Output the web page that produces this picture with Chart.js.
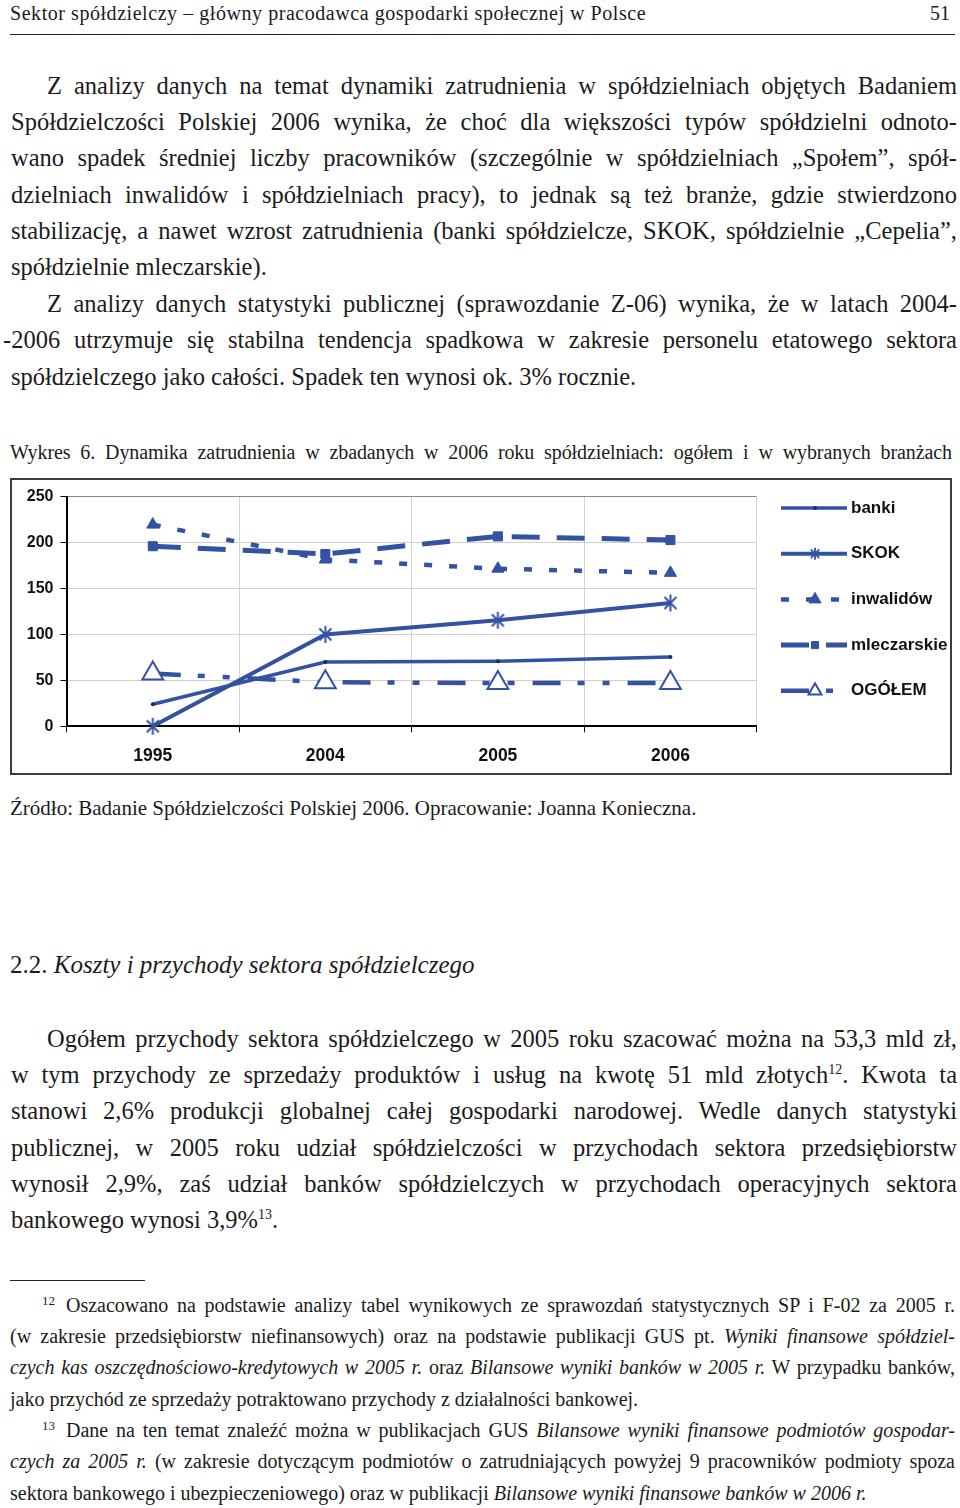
<!DOCTYPE html>
<html lang="pl">
<head>
<meta charset="utf-8">
<script src="https://cdn.jsdelivr.net/npm/chart.js@4.4.1/dist/chart.umd.min.js"></script>
<style>
  body { margin:0; width:960px; height:1508px; background:#fff; color:#1b1b1b;
         font-family:"Liberation Serif", "DejaVu Serif", serif; position:relative; overflow:hidden; }
  .blk { position:absolute; }
  .j { text-align:justify; text-align-last:justify; }
  .l { text-align:left; }
  .ind { text-indent:36px; }
  .body { left:11px; width:946px; font-size:24.5px; line-height:36.4px; }
  .body div { height:36.4px; white-space:normal; }
  .fn { left:10px; width:945px; font-size:20px; line-height:31.33px; }
  .fn div { height:31.33px; }
  .fnum { display:inline-block; width:24px; font-size:13px; position:relative; top:-7px; text-indent:0; }
  sup { font-size:14px; vertical-align:9px; line-height:0; }
  #box { position:absolute; left:10px; top:478px; width:938px; height:293px; border:2px solid #3c3c3c; }
</style>
</head>
<body>

<div class="blk" style="left:10px; top:1px; font-size:20px; line-height:24px; letter-spacing:0.55px;">Sektor spółdzielczy – główny pracodawca gospodarki społecznej w Polsce</div>
<div class="blk" style="right:10px; top:1px; font-size:20px; line-height:24px;">51</div>
<div class="blk" style="left:10px; top:34px; width:945px; height:1px; background:#222;"></div>

<div class="blk body" style="top:67.5px;">
  <div class="j ind">Z analizy danych na temat dynamiki zatrudnienia w spółdzielniach objętych Badaniem</div>
  <div class="j">Spółdzielczości Polskiej 2006 wynika, że choć dla większości typów spółdzielni odnoto-</div>
  <div class="j">wano spadek średniej liczby pracowników (szczególnie w spółdzielniach „Społem”, spół-</div>
  <div class="j">dzielniach inwalidów i spółdzielniach pracy), to jednak są też branże, gdzie stwierdzono</div>
  <div class="j">stabilizację, a nawet wzrost zatrudnienia (banki spółdzielcze, SKOK, spółdzielnie „Cepelia”,</div>
  <div class="l">spółdzielnie mleczarskie).</div>
  <div class="j ind">Z analizy danych statystyki publicznej (sprawozdanie Z-06) wynika, że w latach 2004-</div>
  <div class="j" style="margin-left:-8px;">-2006 utrzymuje się stabilna tendencja spadkowa w zakresie personelu etatowego sektora</div>
  <div class="l">spółdzielczego jako całości. Spadek ten wynosi ok. 3% rocznie.</div>
</div>

<div class="blk j" style="left:10px; top:439px; width:942px; font-size:20px; line-height:26px; letter-spacing:-0.1px;">Wykres 6. Dynamika zatrudnienia w zbadanych w 2006 roku spółdzielniach: ogółem i w wybranych branżach</div>

<div id="box"><canvas id="c" width="938" height="293"></canvas></div>

<div class="blk" style="left:10px; top:795px; font-size:21px; line-height:26px;">Źródło: Badanie Spółdzielczości Polskiej 2006. Opracowanie: Joanna Konieczna.</div>

<div class="blk" style="left:10px; top:949.6px; font-size:25px; line-height:30px;">2.2. <i>Koszty i przychody sektora spółdzielczego</i></div>

<div class="blk body" style="top:1020.5px;">
  <div class="j ind">Ogółem przychody sektora spółdzielczego w 2005 roku szacować można na 53,3 mld zł,</div>
  <div class="j">w tym przychody ze sprzedaży produktów i usług na kwotę 51 mld złotych<sup>12</sup>. Kwota ta</div>
  <div class="j">stanowi 2,6% produkcji globalnej całej gospodarki narodowej. Wedle danych statystyki</div>
  <div class="j">publicznej, w 2005 roku udział spółdzielczości w przychodach sektora przedsiębiorstw</div>
  <div class="j">wynosił 2,9%, zaś udział banków spółdzielczych w przychodach operacyjnych sektora</div>
  <div class="l">bankowego wynosi 3,9%<sup>13</sup>.</div>
</div>

<div class="blk" style="left:10px; top:1280px; width:135px; height:1px; background:#222;"></div>

<div class="blk fn" style="top:1289.6px;">
  <div class="j" style="text-indent:32px;"><span class="fnum">12</span>Oszacowano na podstawie analizy tabel wynikowych ze sprawozdań statystycznych SP i F-02 za 2005 r.</div>
  <div class="j">(w zakresie przedsiębiorstw niefinansowych) oraz na podstawie publikacji GUS pt. <i>Wyniki finansowe spółdziel-</i></div>
  <div class="j"><i>czych kas oszczędnościowo-kredytowych w 2005 r.</i> oraz <i>Bilansowe wyniki banków w 2005 r.</i> W przypadku banków,</div>
  <div class="l">jako przychód ze sprzedaży potraktowano przychody z działalności bankowej.</div>
  <div class="j" style="text-indent:32px;"><span class="fnum">13</span>Dane na ten temat znaleźć można w publikacjach GUS <i>Bilansowe wyniki finansowe podmiotów gospodar-</i></div>
  <div class="j"><i>czych za 2005 r.</i> (w zakresie dotyczącym podmiotów o zatrudniających powyżej 9 pracowników podmioty spoza</div>
  <div class="l">sektora bankowego i ubezpieczeniowego) oraz w publikacji <i>Bilansowe wyniki finansowe banków w 2006 r.</i></div>
</div>

<script>
  const years = ["1995", "2004", "2005", "2006"];
  const banki = [24, 70, 70.7, 75.3];
  const skok = [0, 100, 115.4, 134.2];
  const inwalidow = [219.5, 181.5, 171.5, 167];
  const mleczarskie = [196, 187.5, 206.7, 202.7];
  const ogolem = [57.5, 48, 47, 47];
  const seriesNames = ["banki", "SKOK", "inwalidów", "mleczarskie", "OGÓŁEM"];
  const yTicks = [0, 50, 100, 150, 200, 250];

  const BLUE = "#3352a3";
  const AXIS_FONT = "'Liberation Sans', Arial, sans-serif";

  // asterisk marker: vertical stroke plus an X
  function asterisk(size, lw) {
    const c = document.createElement("canvas");
    c.width = size;
    c.height = size;
    const g = c.getContext("2d");
    g.strokeStyle = BLUE;
    g.lineWidth = lw;
    const m = size / 2, r = size / 2 - 1;
    [90, 45, 135].forEach((a) => {
      const rad = (a * Math.PI) / 180;
      g.beginPath();
      g.moveTo(m - r * Math.cos(rad), m - r * Math.sin(rad));
      g.lineTo(m + r * Math.cos(rad), m + r * Math.sin(rad));
      g.stroke();
    });
    return c;
  }
  const starBig = asterisk(19, 2);
  const starSmall = asterisk(14, 1.8);

  const sideLegend = {
    id: "sideLegend",
    afterDraw(chart) {
      const ctx = chart.ctx;
      chart.data.datasets.forEach((ds, i) => {
        const y = 28 + i * 45.7;
        ctx.save();
        ctx.strokeStyle = ds.borderColor;
        ctx.lineWidth = ds.borderWidth;
        ctx.setLineDash(ds.borderDash || []);
        ctx.beginPath();
        ctx.moveTo(769, y);
        ctx.lineTo(835, y);
        ctx.stroke();
        ctx.setLineDash([]);
        ctx.fillStyle = ds.pointBackgroundColor;
        ctx.strokeStyle = ds.pointBorderColor;
        ctx.lineWidth = ds.pointBorderWidth;
        Chart.helpers.drawPoint(ctx, {
          pointStyle: ds.legendPoint || ds.pointStyle,
          radius: ds.legendRadius,
          rotation: 0,
          borderWidth: ds.pointBorderWidth,
        }, 803, y);
        ctx.fillStyle = "#111";
        ctx.font = "bold 17px " + AXIS_FONT;
        ctx.textBaseline = "middle";
        ctx.textAlign = "left";
        ctx.fillText(ds.label, 839, y);
        ctx.restore();
      });
    },
  };

  new Chart(document.getElementById("c"), {
    type: "line",
    data: {
      labels: years,
      datasets: [
        {
          label: seriesNames[0], data: banki,
          borderColor: BLUE, borderWidth: 3.5,
          pointStyle: "circle", pointRadius: 2, legendRadius: 2,
          pointBackgroundColor: "#1d2c5e", pointBorderColor: "#1d2c5e", pointBorderWidth: 0,
        },
        {
          label: seriesNames[1], data: skok,
          borderColor: BLUE, borderWidth: 4,
          pointStyle: starBig, legendPoint: starSmall, pointRadius: 9, legendRadius: 6,
          pointBackgroundColor: BLUE, pointBorderColor: BLUE, pointBorderWidth: 0,
        },
        {
          label: seriesNames[2], data: inwalidow,
          borderColor: BLUE, borderWidth: 4.5, borderDash: [8, 17],
          pointStyle: "triangle", pointRadius: 7, legendRadius: 7,
          pointBackgroundColor: BLUE, pointBorderColor: BLUE, pointBorderWidth: 1,
        },
        {
          label: seriesNames[3], data: mleczarskie,
          borderColor: BLUE, borderWidth: 5, borderDash: [28, 17],
          pointStyle: "rect", pointRadius: 6.4, legendRadius: 5,
          pointBackgroundColor: BLUE, pointBorderColor: BLUE, pointBorderWidth: 1,
        },
        {
          label: seriesNames[4], data: ogolem,
          borderColor: BLUE, borderWidth: 4.5, borderDash: [28, 17, 7, 18, 7, 18],
          pointStyle: "triangle", pointRadius: 12, legendRadius: 7.5,
          pointBackgroundColor: "#fff", pointBorderColor: BLUE, pointBorderWidth: 2,
        },
      ],
    },
    options: {
      responsive: false,
      animation: false,
      devicePixelRatio: 1,
      clip: false,
      elements: { line: { tension: 0 } },
      layout: { padding: { left: 0, top: 15.3, right: 193.3, bottom: 0 } },
      plugins: { legend: { display: false }, tooltip: { enabled: false } },
      scales: {
        x: {
          offset: true,
          grid: {
            offset: true,
            color: (c) => (c.index === 4 ? "#8a8a8a" : "#d4d4d4"),
            tickColor: "#000",
            tickLength: 6,
          },
          border: { color: "#000", width: 2 },
          ticks: { color: "#111", font: { family: AXIS_FONT, size: 17.5, weight: "bold" }, padding: 13 },
          afterFit: (s) => { s.height = 46.7; },
        },
        y: {
          min: 0,
          max: 250,
          afterBuildTicks: (s) => { s.ticks = yTicks.map((v) => ({ value: v })); },
          grid: {
            color: (c) => (c.tick && c.tick.value === 250 ? "#8a8a8a" : "#cfcfcf"),
            tickColor: "#000",
            tickLength: 6,
          },
          border: { color: "#000", width: 2 },
          ticks: { color: "#111", font: { family: AXIS_FONT, size: 16, weight: "bold" }, padding: 7 },
          afterFit: (s) => { s.width = 54.5; },
        },
      },
    },
    plugins: [sideLegend],
  });
</script>
</body>
</html>
